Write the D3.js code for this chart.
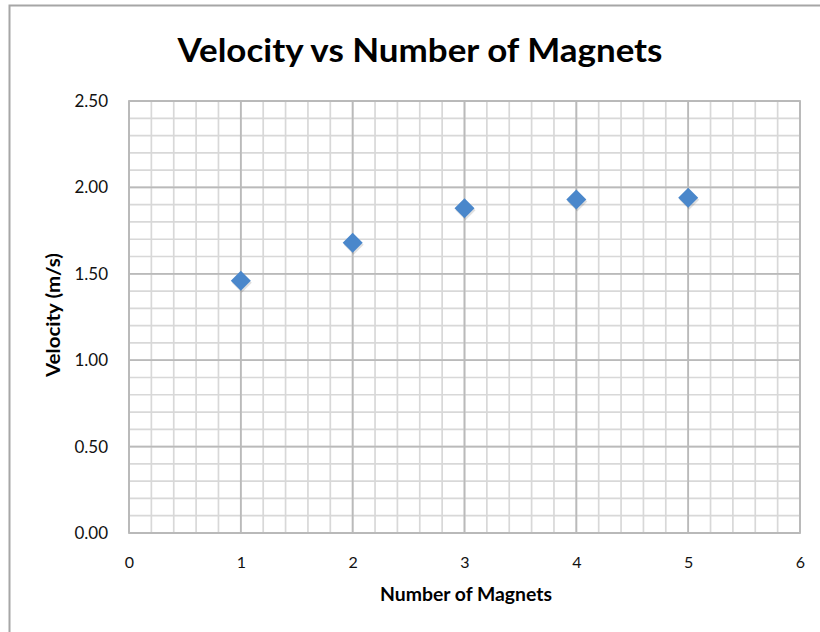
<!DOCTYPE html>
<html>
<head>
<meta charset="utf-8">
<script src="https://cdn.jsdelivr.net/npm/d3@7"></script>
<style>
  body { margin: 0; background: #fff; }
  text { font-family: Lato, "Open Sans", sans-serif; }
</style>
</head>
<body>
<svg id="chart"></svg>
<script>
// magnets vs velocity readings
const magnets = [1, 2, 3, 4, 5]
const velocity = [1.46, 1.68, 1.88, 1.93, 1.94]
const xTicks = [0, 1, 2, 3, 4, 5, 6]
const yTicks = [0, 0.5, 1, 1.5, 2, 2.5]

const svgWidth = 820, svgHeight = 632
const margin = { top: 101, right: 20, bottom: 99, left: 129 }
const width = 800 - margin.left
const height = 533 - margin.top

const svg = d3.select('#chart')
    .attr('width', svgWidth)
    .attr('height', svgHeight)

// outer chart frame
svg.append('rect')
    .attr('x', 9.5).attr('y', 5.5)
    .attr('width', 830).attr('height', 650)
    .attr('fill', '#fff')
    .attr('stroke', '#a6a6a6')
    .attr('stroke-width', 2)

const g = svg.append('g')
    .attr('transform', 'translate(' + margin.left + ',' + margin.top + ')')

const x = d3.scaleLinear().domain([0, 6]).range([0, width])
const y = d3.scaleLinear().domain([0, 2.5]).range([height, 0])

// minor grid
const xMinor = d3.range(0, 30 + 1).map(function(i) { return i / 5 })
const yMinor = d3.range(0, 25 + 1).map(function(i) { return i / 10 })

g.selectAll('.vminor').data(xMinor).enter().append('line')
    .attr('x1', d => x(d)).attr('x2', d => x(d))
    .attr('y1', 0).attr('y2', height)
    .attr('stroke', '#d8d8d8').attr('stroke-width', 1.7)
g.selectAll('.hminor').data(yMinor).enter().append('line')
    .attr('y1', d => y(d)).attr('y2', d => y(d))
    .attr('x1', 0).attr('x2', width)
    .attr('stroke', '#d8d8d8').attr('stroke-width', 1.7)

// major grid
g.selectAll('.vmajor').data(xTicks).enter().append('line')
    .attr('x1', d => x(d)).attr('x2', d => x(d))
    .attr('y1', 0).attr('y2', height)
    .attr('stroke', '#bababa').attr('stroke-width', 1.8)
g.selectAll('.hmajor').data(yTicks).enter().append('line')
    .attr('y1', d => y(d)).attr('y2', d => y(d))
    .attr('x1', 0).attr('x2', width)
    .attr('stroke', '#bababa').attr('stroke-width', 1.8)

g.append('rect')
    .attr('width', width).attr('height', height)
    .attr('fill', 'none')
    .attr('stroke', '#bababa').attr('stroke-width', 1.8)

// axes (labels only)
const xAxis = g.append('g')
    .attr('transform', 'translate(0,' + height + ')')
    .call(d3.axisBottom(x).tickValues(xTicks).tickFormat(d3.format('d')).tickSize(0).tickPadding(24))
xAxis.select('.domain').remove()
xAxis.selectAll('text').attr('font-size', 16).attr('fill', '#111')

const yAxis = g.append('g')
    .call(d3.axisLeft(y).tickValues(yTicks).tickFormat(d3.format('.2f')).tickSize(0).tickPadding(21))
yAxis.select('.domain').remove()
yAxis.selectAll('text').attr('font-size', 17).attr('fill', '#111')

// points
g.selectAll('.pt').data(magnets).enter().append('path')
    .attr('transform', (d, i) => 'translate(' + (x(d) + 1) + ',' + (y(velocity[i]) + 2) + ')')
    .attr('d', 'M0,-10L10,0L0,10L-10,0Z')
    .attr('fill', 'rgba(0,0,0,0.12)')
g.selectAll('.pt2').data(magnets).enter().append('path')
    .attr('transform', (d, i) => 'translate(' + x(d) + ',' + y(velocity[i]) + ')')
    .attr('d', 'M0,-10L10,0L0,10L-10,0Z')
    .attr('fill', '#4a87cb')

// titles
svg.append('text')
    .attr('x', 420).attr('y', 62)
    .attr('text-anchor', 'middle')
    .attr('font-size', 32).attr('font-weight', 'bold')
    .attr('textLength', 485).attr('lengthAdjust', 'spacingAndGlyphs')
    .text('Velocity vs Number of Magnets')

svg.append('text')
    .attr('x', 466).attr('y', 601)
    .attr('text-anchor', 'middle')
    .attr('font-size', 18).attr('font-weight', 'bold')
    .attr('textLength', 172).attr('lengthAdjust', 'spacingAndGlyphs')
    .text('Number of Magnets')

svg.append('text')
    .attr('transform', 'translate(60,315) rotate(-90)')
    .attr('text-anchor', 'middle')
    .attr('font-size', 18).attr('font-weight', 'bold')
    .attr('textLength', 124).attr('lengthAdjust', 'spacingAndGlyphs')
    .text('Velocity (m/s)')
</script>
</body>
</html>
